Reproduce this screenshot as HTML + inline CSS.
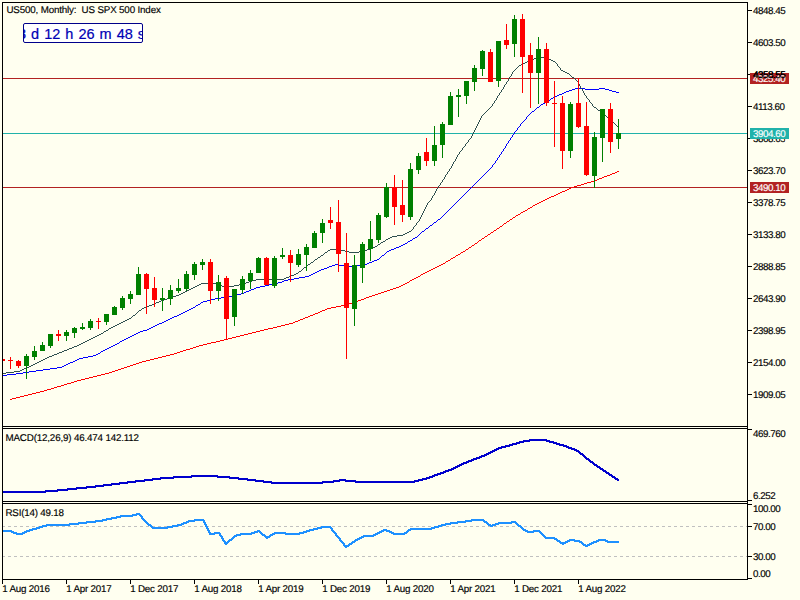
<!DOCTYPE html><html><head><meta charset="utf-8"><title>US500 Monthly</title>
<style>
html,body{margin:0;padding:0;background:#FFFFF0;}
body{width:800px;height:600px;position:relative;overflow:hidden;font-family:"Liberation Sans",sans-serif;}
svg{position:absolute;left:0;top:0;}
.t{position:absolute;white-space:pre;font-size:9.8px;line-height:10px;text-rendering:geometricPrecision;color:#000;-webkit-text-stroke:0.15px #000;}
.n{letter-spacing:-0.45px;}
.w{color:#fff;-webkit-text-stroke:0.15px #fff;}
#timer{position:absolute;left:23px;top:23px;width:118px;height:18px;border:1px solid #00008B;border-radius:2px;background:#fff;overflow:hidden;}
#timer span{position:absolute;left:-6px;top:1.5px;font-size:14.5px;line-height:16px;color:#0000B4;white-space:pre;word-spacing:1px;-webkit-text-stroke:0.2px #0000B4;}
</style></head><body>
<svg width="800" height="600" viewBox="0 0 800 600" shape-rendering="crispEdges">
<defs><clipPath id="cp"><rect x="3" y="3" width="744" height="576"/></clipPath></defs><g clip-path="url(#cp)">
<rect x="3" y="78" width="744" height="1" fill="#B22222"/>
<rect x="3" y="133" width="744" height="1" fill="#20B2AA"/>
<rect x="3" y="187" width="744" height="1" fill="#B22222"/>
<path d="M617 171h2v1h-2zM615 172h2v1h-2zM612 173h3v1h-3zM610 174h2v1h-2zM607 175h3v1h-3zM604 176h3v1h-3zM602 177h2v1h-2zM599 178h3v1h-3zM597 179h2v1h-2zM594 180h3v1h-3zM591 181h3v1h-3zM587 182h4v1h-4zM584 183h3v1h-3zM581 184h3v1h-3zM577 185h4v1h-4zM574 186h3v1h-3zM571 187h3v1h-3zM569 188h2v1h-2zM567 189h2v1h-2zM565 190h2v1h-2zM562 191h3v1h-3zM560 192h2v1h-2zM558 193h2v1h-2zM556 194h2v1h-2zM554 195h2v1h-2zM551 196h3v1h-3zM549 197h2v1h-2zM547 198h2v1h-2zM545 199h2v1h-2zM543 200h2v1h-2zM541 201h2v1h-2zM539 202h2v1h-2zM537 203h2v1h-2zM535 204h2v1h-2zM533 205h2v1h-2zM532 206h1v1h-1zM530 207h2v1h-2zM528 208h2v1h-2zM527 209h1v1h-1zM525 210h2v1h-2zM523 211h2v1h-2zM521 212h2v1h-2zM520 213h1v1h-1zM518 214h2v1h-2zM516 215h2v1h-2zM515 216h1v1h-1zM513 217h2v1h-2zM512 218h1v1h-1zM510 219h2v1h-2zM509 220h1v1h-1zM507 221h2v1h-2zM506 222h1v1h-1zM504 223h2v1h-2zM503 224h1v1h-1zM502 225h1v1h-1zM500 226h2v1h-2zM499 227h1v1h-1zM497 228h2v1h-2zM496 229h1v1h-1zM494 230h2v1h-2zM493 231h1v1h-1zM491 232h2v1h-2zM490 233h1v1h-1zM488 234h2v1h-2zM487 235h1v1h-1zM485 236h2v1h-2zM484 237h1v1h-1zM482 238h2v1h-2zM481 239h1v1h-1zM479 240h2v1h-2zM478 241h1v1h-1zM477 242h1v1h-1zM475 243h2v1h-2zM474 244h1v1h-1zM472 245h2v1h-2zM471 246h1v1h-1zM469 247h2v1h-2zM468 248h1v1h-1zM466 249h2v1h-2zM465 250h1v1h-1zM463 251h2v1h-2zM461 252h2v1h-2zM460 253h1v1h-1zM458 254h2v1h-2zM456 255h2v1h-2zM455 256h1v1h-1zM453 257h2v1h-2zM451 258h2v1h-2zM450 259h1v1h-1zM448 260h2v1h-2zM446 261h2v1h-2zM445 262h1v1h-1zM443 263h2v1h-2zM441 264h2v1h-2zM439 265h2v1h-2zM437 266h2v1h-2zM435 267h2v1h-2zM433 268h2v1h-2zM431 269h2v1h-2zM429 270h2v1h-2zM427 271h2v1h-2zM425 272h2v1h-2zM423 273h2v1h-2zM421 274h2v1h-2zM420 275h1v1h-1zM418 276h2v1h-2zM416 277h2v1h-2zM414 278h2v1h-2zM412 279h2v1h-2zM410 280h2v1h-2zM409 281h1v1h-1zM407 282h2v1h-2zM405 283h2v1h-2zM403 284h2v1h-2zM401 285h2v1h-2zM399 286h2v1h-2zM396 287h3v1h-3zM393 288h3v1h-3zM390 289h3v1h-3zM387 290h3v1h-3zM384 291h3v1h-3zM381 292h3v1h-3zM378 293h3v1h-3zM375 294h3v1h-3zM372 295h3v1h-3zM369 296h3v1h-3zM366 297h3v1h-3zM364 298h2v1h-2zM361 299h3v1h-3zM358 300h3v1h-3zM356 301h2v1h-2zM353 302h3v1h-3zM349 303h4v1h-4zM345 304h4v1h-4zM341 305h4v1h-4zM336 306h5v1h-5zM331 307h5v1h-5zM327 308h4v1h-4zM325 309h2v1h-2zM322 310h3v1h-3zM320 311h2v1h-2zM318 312h2v1h-2zM315 313h3v1h-3zM313 314h2v1h-2zM310 315h3v1h-3zM308 316h2v1h-2zM305 317h3v1h-3zM303 318h2v1h-2zM300 319h3v1h-3zM298 320h2v1h-2zM295 321h3v1h-3zM293 322h2v1h-2zM289 323h4v1h-4zM285 324h4v1h-4zM281 325h4v1h-4zM277 326h4v1h-4zM273 327h4v1h-4zM268 328h5v1h-5zM264 329h4v1h-4zM260 330h4v1h-4zM256 331h4v1h-4zM252 332h4v1h-4zM248 333h4v1h-4zM244 334h4v1h-4zM240 335h4v1h-4zM236 336h4v1h-4zM232 337h4v1h-4zM228 338h4v1h-4zM224 339h4v1h-4zM220 340h4v1h-4zM216 341h4v1h-4zM211 342h5v1h-5zM207 343h4v1h-4zM203 344h4v1h-4zM199 345h4v1h-4zM196 346h3v1h-3zM193 347h3v1h-3zM190 348h3v1h-3zM186 349h4v1h-4zM183 350h3v1h-3zM180 351h3v1h-3zM177 352h3v1h-3zM174 353h3v1h-3zM170 354h4v1h-4zM166 355h4v1h-4zM162 356h4v1h-4zM158 357h4v1h-4zM154 358h4v1h-4zM150 359h4v1h-4zM146 360h4v1h-4zM142 361h4v1h-4zM139 362h3v1h-3zM136 363h3v1h-3zM133 364h3v1h-3zM130 365h3v1h-3zM127 366h3v1h-3zM124 367h3v1h-3zM121 368h3v1h-3zM118 369h3v1h-3zM115 370h3v1h-3zM112 371h3v1h-3zM109 372h3v1h-3zM105 373h4v1h-4zM101 374h4v1h-4zM97 375h4v1h-4zM93 376h4v1h-4zM89 377h4v1h-4zM85 378h4v1h-4zM81 379h4v1h-4zM77 380h4v1h-4zM74 381h3v1h-3zM71 382h3v1h-3zM67 383h4v1h-4zM64 384h3v1h-3zM61 385h3v1h-3zM57 386h4v1h-4zM54 387h3v1h-3zM51 388h3v1h-3zM47 389h4v1h-4zM44 390h3v1h-3zM40 391h4v1h-4zM36 392h4v1h-4zM32 393h4v1h-4zM28 394h4v1h-4zM24 395h4v1h-4zM20 396h4v1h-4zM16 397h4v1h-4zM12 398h4v1h-4zM10 399h2v1h-2z" fill="#FF0000"/>
<path d="M575 88h10v1h-10zM599 88h6v1h-6zM572 89h3v1h-3zM585 89h14v1h-14zM605 89h4v1h-4zM569 90h3v1h-3zM609 90h3v1h-3zM566 91h3v1h-3zM612 91h4v1h-4zM564 92h2v1h-2zM616 92h3v1h-3zM562 93h2v1h-2zM559 94h3v1h-3zM557 95h2v1h-2zM555 96h2v1h-2zM553 97h2v1h-2zM551 98h2v1h-2zM550 99h1v1h-1zM548 100h2v1h-2zM546 101h2v1h-2zM545 102h1v1h-1zM543 103h2v1h-2zM541 104h2v1h-2zM540 105h1v1h-1zM539 106h1v1h-1zM537 107h2v1h-2zM536 108h1v1h-1zM535 109h1v1h-1zM534 110h1v1h-1zM532 111h2v1h-2zM531 112h1v1h-1zM530 113h1v1h-1zM529 114h1v1h-1zM528 115h1v1h-1zM527 116h1v1h-1zM526 117h1v1h-1zM526 118h1v1h-1zM525 119h1v1h-1zM524 120h1v1h-1zM523 121h1v1h-1zM522 122h1v1h-1zM521 123h1v1h-1zM520 124h1v1h-1zM520 125h1v1h-1zM519 126h1v1h-1zM518 127h1v1h-1zM517 128h1v1h-1zM517 129h1v1h-1zM516 130h1v1h-1zM515 131h1v1h-1zM514 132h1v1h-1zM514 133h1v1h-1zM513 134h1v1h-1zM512 135h1v1h-1zM512 136h1v1h-1zM511 137h1v1h-1zM510 138h1v1h-1zM510 139h1v1h-1zM509 140h1v1h-1zM508 141h1v1h-1zM508 142h1v1h-1zM507 143h1v1h-1zM506 144h1v1h-1zM506 145h1v1h-1zM505 146h1v1h-1zM505 147h1v1h-1zM504 148h1v1h-1zM503 149h1v1h-1zM503 150h1v1h-1zM502 151h1v1h-1zM501 152h1v1h-1zM501 153h1v1h-1zM500 154h1v1h-1zM499 155h1v1h-1zM499 156h1v1h-1zM498 157h1v1h-1zM497 158h1v1h-1zM497 159h1v1h-1zM496 160h1v1h-1zM495 161h1v1h-1zM495 162h1v1h-1zM494 163h1v1h-1zM493 164h1v1h-1zM492 165h1v1h-1zM492 166h1v1h-1zM491 167h1v1h-1zM490 168h1v1h-1zM489 169h1v1h-1zM488 170h1v1h-1zM487 171h1v1h-1zM486 172h1v1h-1zM485 173h1v1h-1zM484 174h1v1h-1zM483 175h1v1h-1zM482 176h1v1h-1zM481 177h1v1h-1zM480 178h1v1h-1zM479 179h1v1h-1zM478 180h1v1h-1zM477 181h1v1h-1zM476 182h1v1h-1zM475 183h1v1h-1zM474 184h1v1h-1zM473 185h1v1h-1zM472 186h1v1h-1zM471 187h1v1h-1zM470 188h1v1h-1zM469 189h1v1h-1zM468 190h1v1h-1zM467 191h1v1h-1zM466 192h1v1h-1zM465 193h1v1h-1zM464 194h1v1h-1zM463 195h1v1h-1zM462 196h1v1h-1zM461 197h1v1h-1zM460 198h1v1h-1zM459 199h1v1h-1zM458 200h1v1h-1zM457 201h1v1h-1zM456 202h1v1h-1zM455 203h1v1h-1zM454 204h1v1h-1zM453 205h1v1h-1zM452 206h1v1h-1zM451 207h1v1h-1zM450 208h1v1h-1zM449 209h1v1h-1zM448 210h1v1h-1zM447 211h1v1h-1zM446 212h1v1h-1zM445 213h1v1h-1zM444 214h1v1h-1zM443 215h1v1h-1zM442 216h1v1h-1zM441 217h1v1h-1zM440 218h1v1h-1zM438 219h2v1h-2zM437 220h1v1h-1zM436 221h1v1h-1zM434 222h2v1h-2zM433 223h1v1h-1zM432 224h1v1h-1zM430 225h2v1h-2zM429 226h1v1h-1zM428 227h1v1h-1zM426 228h2v1h-2zM425 229h1v1h-1zM424 230h1v1h-1zM422 231h2v1h-2zM421 232h1v1h-1zM420 233h1v1h-1zM419 234h1v1h-1zM418 235h1v1h-1zM417 236h1v1h-1zM415 237h2v1h-2zM413 238h2v1h-2zM412 239h1v1h-1zM410 240h2v1h-2zM408 241h2v1h-2zM407 242h1v1h-1zM405 243h2v1h-2zM403 244h2v1h-2zM401 245h2v1h-2zM399 246h2v1h-2zM396 247h3v1h-3zM394 248h2v1h-2zM391 249h3v1h-3zM389 250h2v1h-2zM387 251h2v1h-2zM386 252h1v1h-1zM385 253h1v1h-1zM384 254h1v1h-1zM382 255h2v1h-2zM381 256h1v1h-1zM380 257h1v1h-1zM379 258h1v1h-1zM377 259h2v1h-2zM374 260h3v1h-3zM372 261h2v1h-2zM369 262h3v1h-3zM367 263h2v1h-2zM335 264h4v1h-4zM363 264h4v1h-4zM332 265h3v1h-3zM339 265h8v1h-8zM356 265h7v1h-7zM329 266h3v1h-3zM347 266h9v1h-9zM327 267h2v1h-2zM324 268h3v1h-3zM321 269h3v1h-3zM319 270h2v1h-2zM317 271h2v1h-2zM315 272h2v1h-2zM313 273h2v1h-2zM311 274h2v1h-2zM309 275h2v1h-2zM305 276h4v1h-4zM299 277h6v1h-6zM294 278h5v1h-5zM288 279h6v1h-6zM284 280h4v1h-4zM282 281h2v1h-2zM278 282h4v1h-4zM273 283h5v1h-5zM269 284h4v1h-4zM265 285h4v1h-4zM260 286h5v1h-5zM256 287h4v1h-4zM254 288h2v1h-2zM251 289h3v1h-3zM249 290h2v1h-2zM246 291h3v1h-3zM244 292h2v1h-2zM241 293h3v1h-3zM237 294h4v1h-4zM233 295h4v1h-4zM228 296h5v1h-5zM221 297h7v1h-7zM215 298h6v1h-6zM211 299h4v1h-4zM207 300h4v1h-4zM203 301h4v1h-4zM201 302h2v1h-2zM200 303h1v1h-1zM198 304h2v1h-2zM196 305h2v1h-2zM195 306h1v1h-1zM193 307h2v1h-2zM191 308h2v1h-2zM189 309h2v1h-2zM187 310h2v1h-2zM185 311h2v1h-2zM183 312h2v1h-2zM181 313h2v1h-2zM179 314h2v1h-2zM177 315h2v1h-2zM174 316h3v1h-3zM172 317h2v1h-2zM170 318h2v1h-2zM168 319h2v1h-2zM166 320h2v1h-2zM164 321h2v1h-2zM162 322h2v1h-2zM159 323h3v1h-3zM157 324h2v1h-2zM155 325h2v1h-2zM153 326h2v1h-2zM151 327h2v1h-2zM149 328h2v1h-2zM147 329h2v1h-2zM143 330h4v1h-4zM140 331h3v1h-3zM138 332h2v1h-2zM136 333h2v1h-2zM134 334h2v1h-2zM132 335h2v1h-2zM130 336h2v1h-2zM128 337h2v1h-2zM126 338h2v1h-2zM124 339h2v1h-2zM122 340h2v1h-2zM120 341h2v1h-2zM119 342h1v1h-1zM117 343h2v1h-2zM115 344h2v1h-2zM113 345h2v1h-2zM111 346h2v1h-2zM109 347h2v1h-2zM107 348h2v1h-2zM105 349h2v1h-2zM103 350h2v1h-2zM101 351h2v1h-2zM100 352h1v1h-1zM98 353h2v1h-2zM96 354h2v1h-2zM93 355h3v1h-3zM88 356h5v1h-5zM83 357h5v1h-5zM79 358h4v1h-4zM77 359h2v1h-2zM75 360h2v1h-2zM73 361h2v1h-2zM70 362h3v1h-3zM68 363h2v1h-2zM66 364h2v1h-2zM64 365h2v1h-2zM62 366h2v1h-2zM57 367h5v1h-5zM50 368h7v1h-7zM43 369h7v1h-7zM36 370h7v1h-7zM29 371h7v1h-7zM23 372h6v1h-6zM16 373h7v1h-7zM7 374h9v1h-9zM2 375h5v1h-5z" fill="#0000FF"/>
<path d="M539 57h6v1h-6zM534 58h5v1h-5zM545 58h4v1h-4zM532 59h2v1h-2zM549 59h2v1h-2zM529 60h3v1h-3zM551 60h2v1h-2zM527 61h2v1h-2zM553 61h2v1h-2zM525 62h2v1h-2zM555 62h1v1h-1zM523 63h2v1h-2zM556 63h1v1h-1zM521 64h2v1h-2zM557 64h1v1h-1zM519 65h2v1h-2zM557 65h1v1h-1zM518 66h1v1h-1zM558 66h1v1h-1zM517 67h1v1h-1zM559 67h1v1h-1zM516 68h1v1h-1zM560 68h1v1h-1zM515 69h1v1h-1zM560 69h1v1h-1zM514 70h1v1h-1zM561 70h2v1h-2zM513 71h1v1h-1zM563 71h2v1h-2zM512 72h1v1h-1zM565 72h2v1h-2zM512 73h1v1h-1zM567 73h2v1h-2zM511 74h1v1h-1zM569 74h1v1h-1zM511 75h1v1h-1zM570 75h1v1h-1zM510 76h1v1h-1zM571 76h1v1h-1zM509 77h1v1h-1zM572 77h2v1h-2zM509 78h1v1h-1zM574 78h1v1h-1zM508 79h1v1h-1zM575 79h1v1h-1zM508 80h1v1h-1zM576 80h1v1h-1zM507 81h1v1h-1zM577 81h1v1h-1zM506 82h1v1h-1zM578 82h1v1h-1zM506 83h1v1h-1zM578 83h1v1h-1zM505 84h1v1h-1zM579 84h1v1h-1zM504 85h1v1h-1zM579 85h1v1h-1zM504 86h1v1h-1zM580 86h1v1h-1zM503 87h1v1h-1zM580 87h1v1h-1zM503 88h1v1h-1zM581 88h1v1h-1zM502 89h1v1h-1zM582 89h1v1h-1zM501 90h1v1h-1zM582 90h1v1h-1zM501 91h1v1h-1zM583 91h1v1h-1zM500 92h1v1h-1zM583 92h1v1h-1zM499 93h1v1h-1zM584 93h1v1h-1zM499 94h1v1h-1zM584 94h1v1h-1zM498 95h1v1h-1zM585 95h1v1h-1zM497 96h1v1h-1zM586 96h1v1h-1zM497 97h1v1h-1zM586 97h1v1h-1zM496 98h1v1h-1zM587 98h1v1h-1zM496 99h1v1h-1zM588 99h1v1h-1zM495 100h1v1h-1zM589 100h1v1h-1zM494 101h1v1h-1zM589 101h1v1h-1zM494 102h1v1h-1zM590 102h1v1h-1zM493 103h1v1h-1zM591 103h1v1h-1zM492 104h1v1h-1zM592 104h1v1h-1zM492 105h1v1h-1zM592 105h1v1h-1zM491 106h1v1h-1zM593 106h1v1h-1zM490 107h1v1h-1zM594 107h2v1h-2zM489 108h1v1h-1zM596 108h1v1h-1zM488 109h1v1h-1zM597 109h1v1h-1zM487 110h1v1h-1zM598 110h2v1h-2zM486 111h1v1h-1zM600 111h1v1h-1zM485 112h1v1h-1zM601 112h1v1h-1zM484 113h1v1h-1zM602 113h1v1h-1zM483 114h1v1h-1zM603 114h2v1h-2zM482 115h1v1h-1zM605 115h1v1h-1zM481 116h1v1h-1zM606 116h1v1h-1zM481 117h1v1h-1zM607 117h1v1h-1zM480 118h1v1h-1zM608 118h1v1h-1zM480 119h1v1h-1zM609 119h1v1h-1zM479 120h1v1h-1zM610 120h1v1h-1zM479 121h1v1h-1zM611 121h1v1h-1zM478 122h1v1h-1zM612 122h2v1h-2zM478 123h1v1h-1zM614 123h1v1h-1zM477 124h1v1h-1zM615 124h1v1h-1zM477 125h1v1h-1zM616 125h1v1h-1zM476 126h1v1h-1zM617 126h1v1h-1zM476 127h1v1h-1zM618 127h1v1h-1zM475 128h1v1h-1zM475 129h1v1h-1zM474 130h1v1h-1zM474 131h1v1h-1zM473 132h1v1h-1zM473 133h1v1h-1zM472 134h1v1h-1zM472 135h1v1h-1zM471 136h1v1h-1zM471 137h1v1h-1zM470 138h1v1h-1zM469 139h1v1h-1zM468 140h1v1h-1zM468 141h1v1h-1zM467 142h1v1h-1zM466 143h1v1h-1zM465 144h1v1h-1zM465 145h1v1h-1zM464 146h1v1h-1zM463 147h1v1h-1zM462 148h1v1h-1zM462 149h1v1h-1zM461 150h1v1h-1zM460 151h1v1h-1zM459 152h1v1h-1zM459 153h1v1h-1zM458 154h1v1h-1zM457 155h1v1h-1zM457 156h1v1h-1zM456 157h1v1h-1zM456 158h1v1h-1zM455 159h1v1h-1zM455 160h1v1h-1zM454 161h1v1h-1zM453 162h1v1h-1zM453 163h1v1h-1zM452 164h1v1h-1zM452 165h1v1h-1zM451 166h1v1h-1zM451 167h1v1h-1zM450 168h1v1h-1zM449 169h1v1h-1zM449 170h1v1h-1zM448 171h1v1h-1zM447 172h1v1h-1zM447 173h1v1h-1zM446 174h1v1h-1zM445 175h1v1h-1zM445 176h1v1h-1zM444 177h1v1h-1zM444 178h1v1h-1zM443 179h1v1h-1zM442 180h1v1h-1zM442 181h1v1h-1zM441 182h1v1h-1zM440 183h1v1h-1zM440 184h1v1h-1zM439 185h1v1h-1zM438 186h1v1h-1zM438 187h1v1h-1zM437 188h1v1h-1zM436 189h1v1h-1zM436 190h1v1h-1zM435 191h1v1h-1zM435 192h1v1h-1zM434 193h1v1h-1zM434 194h1v1h-1zM433 195h1v1h-1zM432 196h1v1h-1zM432 197h1v1h-1zM431 198h1v1h-1zM431 199h1v1h-1zM430 200h1v1h-1zM429 201h1v1h-1zM428 202h1v1h-1zM427 203h1v1h-1zM427 204h1v1h-1zM426 205h1v1h-1zM426 206h1v1h-1zM425 207h1v1h-1zM425 208h1v1h-1zM424 209h1v1h-1zM424 210h1v1h-1zM423 211h1v1h-1zM423 212h1v1h-1zM422 213h1v1h-1zM422 214h1v1h-1zM421 215h1v1h-1zM421 216h1v1h-1zM420 217h1v1h-1zM420 218h1v1h-1zM419 219h1v1h-1zM419 220h1v1h-1zM418 221h1v1h-1zM417 222h1v1h-1zM416 223h1v1h-1zM416 224h1v1h-1zM415 225h1v1h-1zM414 226h1v1h-1zM413 227h1v1h-1zM413 228h1v1h-1zM412 229h1v1h-1zM411 230h1v1h-1zM409 231h2v1h-2zM407 232h2v1h-2zM405 233h2v1h-2zM403 234h2v1h-2zM397 235h6v1h-6zM392 236h5v1h-5zM390 237h2v1h-2zM388 238h2v1h-2zM386 239h2v1h-2zM385 240h1v1h-1zM383 241h2v1h-2zM381 242h2v1h-2zM380 243h1v1h-1zM378 244h2v1h-2zM377 245h1v1h-1zM375 246h2v1h-2zM373 247h2v1h-2zM371 248h2v1h-2zM330 249h9v1h-9zM367 249h4v1h-4zM328 250h2v1h-2zM339 250h6v1h-6zM363 250h4v1h-4zM327 251h1v1h-1zM345 251h4v1h-4zM359 251h4v1h-4zM325 252h2v1h-2zM349 252h10v1h-10zM324 253h1v1h-1zM323 254h1v1h-1zM321 255h2v1h-2zM320 256h1v1h-1zM318 257h2v1h-2zM317 258h1v1h-1zM315 259h2v1h-2zM314 260h1v1h-1zM313 261h1v1h-1zM311 262h2v1h-2zM310 263h1v1h-1zM308 264h2v1h-2zM307 265h1v1h-1zM306 266h1v1h-1zM304 267h2v1h-2zM303 268h1v1h-1zM302 269h1v1h-1zM301 270h1v1h-1zM299 271h2v1h-2zM298 272h1v1h-1zM296 273h2v1h-2zM294 274h2v1h-2zM291 275h3v1h-3zM289 276h2v1h-2zM286 277h3v1h-3zM284 278h2v1h-2zM256 279h28v1h-28zM252 280h4v1h-4zM249 281h3v1h-3zM246 282h3v1h-3zM201 283h16v1h-16zM242 283h4v1h-4zM199 284h2v1h-2zM217 284h2v1h-2zM239 284h3v1h-3zM197 285h2v1h-2zM219 285h3v1h-3zM234 285h5v1h-5zM195 286h2v1h-2zM222 286h12v1h-12zM193 287h2v1h-2zM191 288h2v1h-2zM189 289h2v1h-2zM187 290h2v1h-2zM185 291h2v1h-2zM183 292h2v1h-2zM181 293h2v1h-2zM179 294h2v1h-2zM176 295h3v1h-3zM173 296h3v1h-3zM170 297h3v1h-3zM167 298h3v1h-3zM164 299h3v1h-3zM161 300h3v1h-3zM159 301h2v1h-2zM156 302h3v1h-3zM154 303h2v1h-2zM152 304h2v1h-2zM149 305h3v1h-3zM146 306h3v1h-3zM144 307h2v1h-2zM142 308h2v1h-2zM141 309h1v1h-1zM139 310h2v1h-2zM138 311h1v1h-1zM137 312h1v1h-1zM136 313h1v1h-1zM135 314h1v1h-1zM133 315h2v1h-2zM132 316h1v1h-1zM131 317h1v1h-1zM129 318h2v1h-2zM127 319h2v1h-2zM125 320h2v1h-2zM123 321h2v1h-2zM121 322h2v1h-2zM119 323h2v1h-2zM117 324h2v1h-2zM115 325h2v1h-2zM113 326h2v1h-2zM111 327h2v1h-2zM109 328h2v1h-2zM108 329h1v1h-1zM106 330h2v1h-2zM104 331h2v1h-2zM103 332h1v1h-1zM101 333h2v1h-2zM99 334h2v1h-2zM97 335h2v1h-2zM95 336h2v1h-2zM93 337h2v1h-2zM91 338h2v1h-2zM89 339h2v1h-2zM87 340h2v1h-2zM85 341h2v1h-2zM83 342h2v1h-2zM81 343h2v1h-2zM79 344h2v1h-2zM77 345h2v1h-2zM74 346h3v1h-3zM72 347h2v1h-2zM69 348h3v1h-3zM67 349h2v1h-2zM64 350h3v1h-3zM62 351h2v1h-2zM59 352h3v1h-3zM57 353h2v1h-2zM54 354h3v1h-3zM52 355h2v1h-2zM49 356h3v1h-3zM47 357h2v1h-2zM45 358h2v1h-2zM43 359h2v1h-2zM41 360h2v1h-2zM39 361h2v1h-2zM37 362h2v1h-2zM35 363h2v1h-2zM33 364h2v1h-2zM31 365h2v1h-2zM29 366h2v1h-2zM26 367h3v1h-3zM24 368h2v1h-2zM22 369h2v1h-2zM20 370h2v1h-2zM14 371h6v1h-6zM6 372h8v1h-8zM2 373h4v1h-4z" fill="#2F4F4F"/>
<rect x="2" y="357" width="1" height="9" fill="#FF0000"/>
<rect x="0" y="359" width="5" height="2" fill="#FF0000"/>
<rect x="10" y="357" width="1" height="12" fill="#FF0000"/>
<rect x="8" y="360" width="5" height="1" fill="#FF0000"/>
<rect x="18" y="360" width="1" height="8" fill="#FF0000"/>
<rect x="16" y="361" width="5" height="5" fill="#FF0000"/>
<rect x="26" y="354" width="1" height="25" fill="#008000"/>
<rect x="24" y="356" width="5" height="10" fill="#008000"/>
<rect x="34" y="346" width="1" height="14" fill="#008000"/>
<rect x="32" y="351" width="5" height="6" fill="#008000"/>
<rect x="42" y="342" width="1" height="9" fill="#008000"/>
<rect x="40" y="345" width="5" height="6" fill="#008000"/>
<rect x="50" y="334" width="1" height="14" fill="#008000"/>
<rect x="48" y="334" width="5" height="12" fill="#008000"/>
<rect x="58" y="330" width="1" height="11" fill="#FF0000"/>
<rect x="56" y="334" width="5" height="2" fill="#FF0000"/>
<rect x="66" y="330" width="1" height="11" fill="#008000"/>
<rect x="64" y="332" width="5" height="4" fill="#008000"/>
<rect x="74" y="327" width="1" height="11" fill="#008000"/>
<rect x="72" y="328" width="5" height="5" fill="#008000"/>
<rect x="82" y="323" width="1" height="7" fill="#008000"/>
<rect x="80" y="327" width="5" height="2" fill="#008000"/>
<rect x="90" y="319" width="1" height="11" fill="#008000"/>
<rect x="88" y="321" width="5" height="7" fill="#008000"/>
<rect x="98" y="318" width="1" height="11" fill="#FF0000"/>
<rect x="96" y="321" width="5" height="1" fill="#FF0000"/>
<rect x="106" y="314" width="1" height="11" fill="#008000"/>
<rect x="104" y="314" width="5" height="8" fill="#008000"/>
<rect x="114" y="306" width="1" height="9" fill="#008000"/>
<rect x="112" y="307" width="5" height="8" fill="#008000"/>
<rect x="122" y="296" width="1" height="14" fill="#008000"/>
<rect x="120" y="298" width="5" height="10" fill="#008000"/>
<rect x="130" y="291" width="1" height="13" fill="#008000"/>
<rect x="128" y="294" width="5" height="5" fill="#008000"/>
<rect x="138" y="267" width="1" height="28" fill="#008000"/>
<rect x="136" y="274" width="5" height="21" fill="#008000"/>
<rect x="146" y="273" width="1" height="41" fill="#FF0000"/>
<rect x="144" y="274" width="5" height="15" fill="#FF0000"/>
<rect x="154" y="277" width="1" height="30" fill="#FF0000"/>
<rect x="152" y="288" width="5" height="12" fill="#FF0000"/>
<rect x="162" y="288" width="1" height="23" fill="#008000"/>
<rect x="160" y="298" width="5" height="2" fill="#008000"/>
<rect x="170" y="285" width="1" height="20" fill="#008000"/>
<rect x="168" y="290" width="5" height="9" fill="#008000"/>
<rect x="178" y="279" width="1" height="14" fill="#008000"/>
<rect x="176" y="288" width="5" height="3" fill="#008000"/>
<rect x="186" y="271" width="1" height="20" fill="#008000"/>
<rect x="184" y="274" width="5" height="15" fill="#008000"/>
<rect x="194" y="262" width="1" height="18" fill="#008000"/>
<rect x="192" y="264" width="5" height="11" fill="#008000"/>
<rect x="202" y="259" width="1" height="11" fill="#008000"/>
<rect x="200" y="262" width="5" height="3" fill="#008000"/>
<rect x="210" y="259" width="1" height="45" fill="#FF0000"/>
<rect x="208" y="262" width="5" height="29" fill="#FF0000"/>
<rect x="218" y="275" width="1" height="26" fill="#008000"/>
<rect x="216" y="282" width="5" height="9" fill="#008000"/>
<rect x="226" y="276" width="1" height="64" fill="#FF0000"/>
<rect x="224" y="278" width="5" height="41" fill="#FF0000"/>
<rect x="234" y="289" width="1" height="37" fill="#008000"/>
<rect x="232" y="289" width="5" height="28" fill="#008000"/>
<rect x="242" y="276" width="1" height="18" fill="#008000"/>
<rect x="240" y="279" width="5" height="11" fill="#008000"/>
<rect x="250" y="270" width="1" height="19" fill="#008000"/>
<rect x="248" y="273" width="5" height="8" fill="#008000"/>
<rect x="258" y="257" width="1" height="16" fill="#008000"/>
<rect x="256" y="258" width="5" height="15" fill="#008000"/>
<rect x="266" y="257" width="1" height="28" fill="#FF0000"/>
<rect x="264" y="258" width="5" height="27" fill="#FF0000"/>
<rect x="274" y="256" width="1" height="32" fill="#008000"/>
<rect x="272" y="258" width="5" height="28" fill="#008000"/>
<rect x="282" y="248" width="1" height="11" fill="#008000"/>
<rect x="280" y="255" width="5" height="2" fill="#008000"/>
<rect x="290" y="250" width="1" height="32" fill="#FF0000"/>
<rect x="288" y="255" width="5" height="8" fill="#FF0000"/>
<rect x="298" y="249" width="1" height="18" fill="#008000"/>
<rect x="296" y="254" width="5" height="11" fill="#008000"/>
<rect x="306" y="244" width="1" height="27" fill="#008000"/>
<rect x="304" y="247" width="5" height="8" fill="#008000"/>
<rect x="314" y="231" width="1" height="17" fill="#008000"/>
<rect x="312" y="233" width="5" height="15" fill="#008000"/>
<rect x="322" y="219" width="1" height="24" fill="#008000"/>
<rect x="320" y="223" width="5" height="10" fill="#008000"/>
<rect x="330" y="207" width="1" height="22" fill="#FF0000"/>
<rect x="328" y="220" width="5" height="3" fill="#FF0000"/>
<rect x="338" y="200" width="1" height="72" fill="#FF0000"/>
<rect x="336" y="222" width="5" height="32" fill="#FF0000"/>
<rect x="346" y="233" width="1" height="126" fill="#FF0000"/>
<rect x="344" y="263" width="5" height="45" fill="#FF0000"/>
<rect x="354" y="255" width="1" height="71" fill="#008000"/>
<rect x="352" y="265" width="5" height="44" fill="#008000"/>
<rect x="362" y="242" width="1" height="41" fill="#008000"/>
<rect x="360" y="244" width="5" height="24" fill="#008000"/>
<rect x="370" y="221" width="1" height="40" fill="#008000"/>
<rect x="368" y="239" width="5" height="10" fill="#008000"/>
<rect x="378" y="213" width="1" height="30" fill="#008000"/>
<rect x="376" y="215" width="5" height="25" fill="#008000"/>
<rect x="386" y="183" width="1" height="35" fill="#008000"/>
<rect x="384" y="187" width="5" height="30" fill="#008000"/>
<rect x="394" y="175" width="1" height="50" fill="#FF0000"/>
<rect x="392" y="187" width="5" height="20" fill="#FF0000"/>
<rect x="402" y="180" width="1" height="42" fill="#FF0000"/>
<rect x="400" y="205" width="5" height="10" fill="#FF0000"/>
<rect x="410" y="163" width="1" height="57" fill="#008000"/>
<rect x="408" y="169" width="5" height="48" fill="#008000"/>
<rect x="418" y="153" width="1" height="21" fill="#008000"/>
<rect x="416" y="156" width="5" height="14" fill="#008000"/>
<rect x="426" y="138" width="1" height="28" fill="#FF0000"/>
<rect x="424" y="152" width="5" height="9" fill="#FF0000"/>
<rect x="434" y="126" width="1" height="40" fill="#008000"/>
<rect x="432" y="145" width="5" height="16" fill="#008000"/>
<rect x="442" y="122" width="1" height="36" fill="#008000"/>
<rect x="440" y="124" width="5" height="21" fill="#008000"/>
<rect x="450" y="92" width="1" height="33" fill="#008000"/>
<rect x="448" y="96" width="5" height="29" fill="#008000"/>
<rect x="458" y="89" width="1" height="28" fill="#008000"/>
<rect x="456" y="95" width="5" height="2" fill="#008000"/>
<rect x="466" y="81" width="1" height="23" fill="#008000"/>
<rect x="464" y="81" width="5" height="15" fill="#008000"/>
<rect x="474" y="65" width="1" height="26" fill="#008000"/>
<rect x="472" y="68" width="5" height="14" fill="#008000"/>
<rect x="482" y="50" width="1" height="26" fill="#008000"/>
<rect x="480" y="51" width="5" height="18" fill="#008000"/>
<rect x="490" y="49" width="1" height="33" fill="#FF0000"/>
<rect x="488" y="52" width="5" height="30" fill="#FF0000"/>
<rect x="498" y="41" width="1" height="46" fill="#008000"/>
<rect x="496" y="41" width="5" height="40" fill="#008000"/>
<rect x="506" y="24" width="1" height="25" fill="#FF0000"/>
<rect x="504" y="40" width="5" height="5" fill="#FF0000"/>
<rect x="514" y="15" width="1" height="42" fill="#008000"/>
<rect x="512" y="19" width="5" height="25" fill="#008000"/>
<rect x="522" y="14" width="1" height="79" fill="#FF0000"/>
<rect x="520" y="19" width="5" height="38" fill="#FF0000"/>
<rect x="530" y="43" width="1" height="65" fill="#FF0000"/>
<rect x="528" y="55" width="5" height="18" fill="#FF0000"/>
<rect x="538" y="37" width="1" height="67" fill="#008000"/>
<rect x="536" y="49" width="5" height="24" fill="#008000"/>
<rect x="546" y="43" width="1" height="63" fill="#FF0000"/>
<rect x="544" y="49" width="5" height="54" fill="#FF0000"/>
<rect x="554" y="81" width="1" height="66" fill="#FF0000"/>
<rect x="552" y="103" width="5" height="1" fill="#FF0000"/>
<rect x="562" y="96" width="1" height="73" fill="#FF0000"/>
<rect x="560" y="103" width="5" height="48" fill="#FF0000"/>
<rect x="570" y="102" width="1" height="56" fill="#008000"/>
<rect x="568" y="104" width="5" height="47" fill="#008000"/>
<rect x="578" y="78" width="1" height="50" fill="#FF0000"/>
<rect x="576" y="103" width="5" height="24" fill="#FF0000"/>
<rect x="586" y="102" width="1" height="74" fill="#FF0000"/>
<rect x="584" y="126" width="5" height="49" fill="#FF0000"/>
<rect x="594" y="132" width="1" height="56" fill="#008000"/>
<rect x="592" y="137" width="5" height="39" fill="#008000"/>
<rect x="602" y="109" width="1" height="53" fill="#008000"/>
<rect x="600" y="109" width="5" height="29" fill="#008000"/>
<rect x="610" y="103" width="1" height="50" fill="#FF0000"/>
<rect x="608" y="109" width="5" height="33" fill="#FF0000"/>
<rect x="618" y="119" width="1" height="30" fill="#008000"/>
<rect x="616" y="133" width="5" height="6" fill="#008000"/>
<path d="M2 526h3v1h-3zM2 556h3v1h-3zM8 526h3v1h-3zM8 556h3v1h-3zM14 526h3v1h-3zM14 556h3v1h-3zM20 526h3v1h-3zM20 556h3v1h-3zM26 526h3v1h-3zM26 556h3v1h-3zM32 526h3v1h-3zM32 556h3v1h-3zM38 526h3v1h-3zM38 556h3v1h-3zM44 526h3v1h-3zM44 556h3v1h-3zM50 526h3v1h-3zM50 556h3v1h-3zM56 526h3v1h-3zM56 556h3v1h-3zM62 526h3v1h-3zM62 556h3v1h-3zM68 526h3v1h-3zM68 556h3v1h-3zM74 526h3v1h-3zM74 556h3v1h-3zM80 526h3v1h-3zM80 556h3v1h-3zM86 526h3v1h-3zM86 556h3v1h-3zM92 526h3v1h-3zM92 556h3v1h-3zM98 526h3v1h-3zM98 556h3v1h-3zM104 526h3v1h-3zM104 556h3v1h-3zM110 526h3v1h-3zM110 556h3v1h-3zM116 526h3v1h-3zM116 556h3v1h-3zM122 526h3v1h-3zM122 556h3v1h-3zM128 526h3v1h-3zM128 556h3v1h-3zM134 526h3v1h-3zM134 556h3v1h-3zM140 526h3v1h-3zM140 556h3v1h-3zM146 526h3v1h-3zM146 556h3v1h-3zM152 526h3v1h-3zM152 556h3v1h-3zM158 526h3v1h-3zM158 556h3v1h-3zM164 526h3v1h-3zM164 556h3v1h-3zM170 526h3v1h-3zM170 556h3v1h-3zM176 526h3v1h-3zM176 556h3v1h-3zM182 526h3v1h-3zM182 556h3v1h-3zM188 526h3v1h-3zM188 556h3v1h-3zM194 526h3v1h-3zM194 556h3v1h-3zM200 526h3v1h-3zM200 556h3v1h-3zM206 526h3v1h-3zM206 556h3v1h-3zM212 526h3v1h-3zM212 556h3v1h-3zM218 526h3v1h-3zM218 556h3v1h-3zM224 526h3v1h-3zM224 556h3v1h-3zM230 526h3v1h-3zM230 556h3v1h-3zM236 526h3v1h-3zM236 556h3v1h-3zM242 526h3v1h-3zM242 556h3v1h-3zM248 526h3v1h-3zM248 556h3v1h-3zM254 526h3v1h-3zM254 556h3v1h-3zM260 526h3v1h-3zM260 556h3v1h-3zM266 526h3v1h-3zM266 556h3v1h-3zM272 526h3v1h-3zM272 556h3v1h-3zM278 526h3v1h-3zM278 556h3v1h-3zM284 526h3v1h-3zM284 556h3v1h-3zM290 526h3v1h-3zM290 556h3v1h-3zM296 526h3v1h-3zM296 556h3v1h-3zM302 526h3v1h-3zM302 556h3v1h-3zM308 526h3v1h-3zM308 556h3v1h-3zM314 526h3v1h-3zM314 556h3v1h-3zM320 526h3v1h-3zM320 556h3v1h-3zM326 526h3v1h-3zM326 556h3v1h-3zM332 526h3v1h-3zM332 556h3v1h-3zM338 526h3v1h-3zM338 556h3v1h-3zM344 526h3v1h-3zM344 556h3v1h-3zM350 526h3v1h-3zM350 556h3v1h-3zM356 526h3v1h-3zM356 556h3v1h-3zM362 526h3v1h-3zM362 556h3v1h-3zM368 526h3v1h-3zM368 556h3v1h-3zM374 526h3v1h-3zM374 556h3v1h-3zM380 526h3v1h-3zM380 556h3v1h-3zM386 526h3v1h-3zM386 556h3v1h-3zM392 526h3v1h-3zM392 556h3v1h-3zM398 526h3v1h-3zM398 556h3v1h-3zM404 526h3v1h-3zM404 556h3v1h-3zM410 526h3v1h-3zM410 556h3v1h-3zM416 526h3v1h-3zM416 556h3v1h-3zM422 526h3v1h-3zM422 556h3v1h-3zM428 526h3v1h-3zM428 556h3v1h-3zM434 526h3v1h-3zM434 556h3v1h-3zM440 526h3v1h-3zM440 556h3v1h-3zM446 526h3v1h-3zM446 556h3v1h-3zM452 526h3v1h-3zM452 556h3v1h-3zM458 526h3v1h-3zM458 556h3v1h-3zM464 526h3v1h-3zM464 556h3v1h-3zM470 526h3v1h-3zM470 556h3v1h-3zM476 526h3v1h-3zM476 556h3v1h-3zM482 526h3v1h-3zM482 556h3v1h-3zM488 526h3v1h-3zM488 556h3v1h-3zM494 526h3v1h-3zM494 556h3v1h-3zM500 526h3v1h-3zM500 556h3v1h-3zM506 526h3v1h-3zM506 556h3v1h-3zM512 526h3v1h-3zM512 556h3v1h-3zM518 526h3v1h-3zM518 556h3v1h-3zM524 526h3v1h-3zM524 556h3v1h-3zM530 526h3v1h-3zM530 556h3v1h-3zM536 526h3v1h-3zM536 556h3v1h-3zM542 526h3v1h-3zM542 556h3v1h-3zM548 526h3v1h-3zM548 556h3v1h-3zM554 526h3v1h-3zM554 556h3v1h-3zM560 526h3v1h-3zM560 556h3v1h-3zM566 526h3v1h-3zM566 556h3v1h-3zM572 526h3v1h-3zM572 556h3v1h-3zM578 526h3v1h-3zM578 556h3v1h-3zM584 526h3v1h-3zM584 556h3v1h-3zM590 526h3v1h-3zM590 556h3v1h-3zM596 526h3v1h-3zM596 556h3v1h-3zM602 526h3v1h-3zM602 556h3v1h-3zM608 526h3v1h-3zM608 556h3v1h-3zM614 526h3v1h-3zM614 556h3v1h-3zM620 526h3v1h-3zM620 556h3v1h-3zM626 526h3v1h-3zM626 556h3v1h-3zM632 526h3v1h-3zM632 556h3v1h-3zM638 526h3v1h-3zM638 556h3v1h-3zM644 526h3v1h-3zM644 556h3v1h-3zM650 526h3v1h-3zM650 556h3v1h-3zM656 526h3v1h-3zM656 556h3v1h-3zM662 526h3v1h-3zM662 556h3v1h-3zM668 526h3v1h-3zM668 556h3v1h-3zM674 526h3v1h-3zM674 556h3v1h-3zM680 526h3v1h-3zM680 556h3v1h-3zM686 526h3v1h-3zM686 556h3v1h-3zM692 526h3v1h-3zM692 556h3v1h-3zM698 526h3v1h-3zM698 556h3v1h-3zM704 526h3v1h-3zM704 556h3v1h-3zM710 526h3v1h-3zM710 556h3v1h-3zM716 526h3v1h-3zM716 556h3v1h-3zM722 526h3v1h-3zM722 556h3v1h-3zM728 526h3v1h-3zM728 556h3v1h-3zM734 526h3v1h-3zM734 556h3v1h-3zM740 526h3v1h-3zM740 556h3v1h-3zM746 526h3v1h-3zM746 556h3v1h-3z" fill="#C0C0C0"/>
<path d="M529 439h18v1h-18zM523 440h27v1h-27zM519 441h11v1h-11zM546 441h8v1h-8zM516 442h8v1h-8zM549 442h8v1h-8zM512 443h8v1h-8zM553 443h7v1h-7zM509 444h8v1h-8zM556 444h8v1h-8zM505 445h8v1h-8zM559 445h8v1h-8zM501 446h9v1h-9zM563 446h6v1h-6zM498 447h8v1h-8zM566 447h6v1h-6zM496 448h6v1h-6zM568 448h7v1h-7zM494 449h5v1h-5zM571 449h6v1h-6zM492 450h5v1h-5zM574 450h5v1h-5zM490 451h5v1h-5zM576 451h4v1h-4zM488 452h5v1h-5zM578 452h3v1h-3zM486 453h5v1h-5zM579 453h4v1h-4zM484 454h5v1h-5zM580 454h4v1h-4zM481 455h6v1h-6zM582 455h3v1h-3zM479 456h6v1h-6zM583 456h3v1h-3zM476 457h6v1h-6zM584 457h3v1h-3zM473 458h7v1h-7zM585 458h4v1h-4zM471 459h6v1h-6zM586 459h4v1h-4zM468 460h6v1h-6zM588 460h3v1h-3zM466 461h6v1h-6zM589 461h4v1h-4zM463 462h6v1h-6zM590 462h4v1h-4zM461 463h6v1h-6zM592 463h3v1h-3zM459 464h5v1h-5zM593 464h4v1h-4zM457 465h5v1h-5zM594 465h4v1h-4zM455 466h5v1h-5zM596 466h4v1h-4zM453 467h5v1h-5zM597 467h4v1h-4zM451 468h5v1h-5zM599 468h4v1h-4zM448 469h6v1h-6zM600 469h4v1h-4zM445 470h7v1h-7zM602 470h4v1h-4zM443 471h6v1h-6zM603 471h4v1h-4zM440 472h6v1h-6zM605 472h4v1h-4zM437 473h7v1h-7zM606 473h4v1h-4zM434 474h7v1h-7zM608 474h4v1h-4zM191 475h27v1h-27zM432 475h6v1h-6zM609 475h4v1h-4zM173 476h57v1h-57zM429 476h6v1h-6zM611 476h4v1h-4zM160 477h32v1h-32zM217 477h22v1h-22zM426 477h7v1h-7zM612 477h4v1h-4zM152 478h22v1h-22zM229 478h19v1h-19zM422 478h8v1h-8zM614 478h4v1h-4zM144 479h17v1h-17zM238 479h18v1h-18zM339 479h7v1h-7zM418 479h9v1h-9zM615 479h4v1h-4zM135 480h18v1h-18zM247 480h17v1h-17zM333 480h23v1h-23zM414 480h9v1h-9zM617 480h2v1h-2zM127 481h18v1h-18zM255 481h17v1h-17zM322 481h18v1h-18zM345 481h74v1h-74zM119 482h17v1h-17zM263 482h71v1h-71zM355 482h60v1h-60zM111 483h17v1h-17zM271 483h52v1h-52zM103 484h17v1h-17zM95 485h17v1h-17zM86 486h18v1h-18zM76 487h20v1h-20zM67 488h20v1h-20zM57 489h20v1h-20zM45 490h23v1h-23zM1 491h57v1h-57zM1 492h45v1h-45z" fill="#0000CD"/>
<path d="M136 513h4v1h-4zM132 514h9v1h-9zM120 515h17v1h-17zM139 515h3v1h-3zM116 516h17v1h-17zM140 516h3v1h-3zM111 517h10v1h-10zM141 517h2v1h-2zM106 518h11v1h-11zM141 518h3v1h-3zM102 519h10v1h-10zM142 519h3v1h-3zM194 519h10v1h-10zM471 519h13v1h-13zM95 520h12v1h-12zM143 520h3v1h-3zM188 520h17v1h-17zM465 520h20v1h-20zM86 521h17v1h-17zM144 521h3v1h-3zM186 521h9v1h-9zM203 521h2v1h-2zM457 521h15v1h-15zM483 521h4v1h-4zM511 521h5v1h-5zM78 522h18v1h-18zM145 522h3v1h-3zM183 522h6v1h-6zM203 522h3v1h-3zM450 522h16v1h-16zM484 522h4v1h-4zM498 522h19v1h-19zM69 523h18v1h-18zM146 523h3v1h-3zM181 523h6v1h-6zM204 523h2v1h-2zM445 523h13v1h-13zM486 523h3v1h-3zM495 523h17v1h-17zM515 523h3v1h-3zM46 524h33v1h-33zM147 524h4v1h-4zM177 524h7v1h-7zM204 524h3v1h-3zM441 524h10v1h-10zM487 524h4v1h-4zM492 524h7v1h-7zM516 524h3v1h-3zM42 525h28v1h-28zM148 525h4v1h-4zM172 525h10v1h-10zM205 525h2v1h-2zM438 525h8v1h-8zM488 525h8v1h-8zM517 525h4v1h-4zM39 526h8v1h-8zM150 526h3v1h-3zM167 526h11v1h-11zM205 526h3v1h-3zM321 526h10v1h-10zM434 526h8v1h-8zM490 526h3v1h-3zM518 526h4v1h-4zM36 527h7v1h-7zM151 527h22v1h-22zM206 527h2v1h-2zM317 527h15v1h-15zM431 527h8v1h-8zM520 527h3v1h-3zM32 528h8v1h-8zM152 528h16v1h-16zM206 528h3v1h-3zM313 528h9v1h-9zM330 528h3v1h-3zM410 528h25v1h-25zM521 528h3v1h-3zM29 529h8v1h-8zM207 529h2v1h-2zM309 529h9v1h-9zM331 529h2v1h-2zM383 529h4v1h-4zM408 529h24v1h-24zM522 529h4v1h-4zM1 530h11v1h-11zM26 530h7v1h-7zM207 530h3v1h-3zM257 530h3v1h-3zM306 530h8v1h-8zM331 530h3v1h-3zM381 530h9v1h-9zM407 530h4v1h-4zM523 530h5v1h-5zM533 530h7v1h-7zM1 531h13v1h-13zM24 531h6v1h-6zM208 531h2v1h-2zM254 531h7v1h-7zM303 531h7v1h-7zM332 531h3v1h-3zM379 531h5v1h-5zM386 531h6v1h-6zM406 531h3v1h-3zM525 531h16v1h-16zM11 532h6v1h-6zM22 532h5v1h-5zM208 532h3v1h-3zM214 532h6v1h-6zM251 532h7v1h-7zM259 532h3v1h-3zM274 532h12v1h-12zM299 532h8v1h-8zM333 532h3v1h-3zM377 532h5v1h-5zM389 532h5v1h-5zM404 532h4v1h-4zM527 532h7v1h-7zM539 532h3v1h-3zM13 533h12v1h-12zM209 533h12v1h-12zM240 533h15v1h-15zM260 533h3v1h-3zM272 533h32v1h-32zM334 533h3v1h-3zM375 533h5v1h-5zM391 533h16v1h-16zM540 533h3v1h-3zM16 534h7v1h-7zM209 534h6v1h-6zM219 534h2v1h-2zM236 534h16v1h-16zM261 534h4v1h-4zM270 534h5v1h-5zM285 534h15v1h-15zM335 534h2v1h-2zM373 534h5v1h-5zM393 534h12v1h-12zM541 534h3v1h-3zM219 535h3v1h-3zM234 535h7v1h-7zM262 535h4v1h-4zM269 535h4v1h-4zM335 535h3v1h-3zM363 535h13v1h-13zM542 535h3v1h-3zM220 536h3v1h-3zM233 536h4v1h-4zM264 536h7v1h-7zM336 536h3v1h-3zM361 536h13v1h-13zM543 536h3v1h-3zM221 537h2v1h-2zM232 537h3v1h-3zM265 537h5v1h-5zM337 537h3v1h-3zM359 537h5v1h-5zM544 537h11v1h-11zM221 538h3v1h-3zM231 538h3v1h-3zM266 538h2v1h-2zM338 538h3v1h-3zM357 538h5v1h-5zM545 538h12v1h-12zM222 539h2v1h-2zM229 539h4v1h-4zM339 539h2v1h-2zM355 539h5v1h-5zM554 539h4v1h-4zM569 539h6v1h-6zM598 539h8v1h-8zM222 540h3v1h-3zM228 540h4v1h-4zM339 540h3v1h-3zM354 540h4v1h-4zM556 540h4v1h-4zM567 540h13v1h-13zM596 540h12v1h-12zM223 541h3v1h-3zM227 541h3v1h-3zM340 541h3v1h-3zM352 541h4v1h-4zM557 541h4v1h-4zM565 541h5v1h-5zM574 541h8v1h-8zM593 541h6v1h-6zM605 541h14v1h-14zM224 542h5v1h-5zM341 542h3v1h-3zM351 542h4v1h-4zM559 542h9v1h-9zM579 542h4v1h-4zM591 542h6v1h-6zM607 542h12v1h-12zM224 543h4v1h-4zM342 543h3v1h-3zM349 543h4v1h-4zM560 543h6v1h-6zM581 543h3v1h-3zM589 543h5v1h-5zM225 544h2v1h-2zM343 544h2v1h-2zM348 544h4v1h-4zM562 544h2v1h-2zM582 544h4v1h-4zM587 544h5v1h-5zM343 545h7v1h-7zM583 545h7v1h-7zM344 546h5v1h-5zM585 546h3v1h-3zM345 547h2v1h-2z" fill="#1E90FF"/>
</g>
<rect x="2" y="2" width="1" height="578" fill="#000"/>
<rect x="747" y="2" width="1" height="578" fill="#000"/>
<rect x="2" y="2" width="746" height="1" fill="#000"/>
<rect x="2" y="426" width="746" height="1" fill="#000"/>
<rect x="2" y="428" width="746" height="1" fill="#000"/>
<rect x="2" y="501" width="746" height="1" fill="#000"/>
<rect x="2" y="503" width="746" height="1" fill="#000"/>
<rect x="2" y="579" width="746" height="1" fill="#000"/>
<rect x="748" y="10" width="4" height="1" fill="#000"/>
<rect x="748" y="42" width="4" height="1" fill="#000"/>
<rect x="748" y="74" width="4" height="1" fill="#000"/>
<rect x="748" y="106" width="4" height="1" fill="#000"/>
<rect x="748" y="138" width="4" height="1" fill="#000"/>
<rect x="748" y="170" width="4" height="1" fill="#000"/>
<rect x="748" y="202" width="4" height="1" fill="#000"/>
<rect x="748" y="234" width="4" height="1" fill="#000"/>
<rect x="748" y="266" width="4" height="1" fill="#000"/>
<rect x="748" y="298" width="4" height="1" fill="#000"/>
<rect x="748" y="330" width="4" height="1" fill="#000"/>
<rect x="748" y="362" width="4" height="1" fill="#000"/>
<rect x="748" y="394" width="4" height="1" fill="#000"/>
<rect x="748" y="429" width="4" height="1" fill="#000"/>
<rect x="748" y="500" width="4" height="1" fill="#000"/>
<rect x="748" y="504" width="4" height="1" fill="#000"/>
<rect x="748" y="526" width="4" height="1" fill="#000"/>
<rect x="748" y="556" width="4" height="1" fill="#000"/>
<rect x="748" y="578" width="4" height="1" fill="#000"/>
<rect x="2" y="580" width="1" height="4" fill="#000"/>
<rect x="66" y="580" width="1" height="4" fill="#000"/>
<rect x="130" y="580" width="1" height="4" fill="#000"/>
<rect x="194" y="580" width="1" height="4" fill="#000"/>
<rect x="258" y="580" width="1" height="4" fill="#000"/>
<rect x="322" y="580" width="1" height="4" fill="#000"/>
<rect x="386" y="580" width="1" height="4" fill="#000"/>
<rect x="450" y="580" width="1" height="4" fill="#000"/>
<rect x="514" y="580" width="1" height="4" fill="#000"/>
<rect x="578" y="580" width="1" height="4" fill="#000"/>
<rect x="750" y="73" width="39" height="11" fill="#B22222"/>
<rect x="750" y="128" width="39" height="11" fill="#20B2AA"/>
<rect x="750" y="182" width="39" height="11" fill="#B22222"/>
</svg>
<div class="t n" style="left:753px;top:7px;">4848.45</div>
<div class="t n" style="left:753px;top:39px;">4603.50</div>
<div class="t n" style="left:753px;top:71px;">4358.55</div>
<div class="t n" style="left:753px;top:103px;">4113.60</div>
<div class="t n" style="left:753px;top:167px;">3623.70</div>
<div class="t n" style="left:753px;top:199px;">3378.75</div>
<div class="t n" style="left:753px;top:231px;">3133.80</div>
<div class="t n" style="left:753px;top:263px;">2888.85</div>
<div class="t n" style="left:753px;top:295px;">2643.90</div>
<div class="t n" style="left:753px;top:327px;">2398.95</div>
<div class="t n" style="left:753px;top:359px;">2154.00</div>
<div class="t n" style="left:753px;top:391px;">1909.05</div>
<div class="t n" style="left:753px;top:135px;clip-path:inset(4px 0 0 0);">3868.65</div>
<div class="t n w" style="left:753px;top:75px;">4325.40</div>
<div class="t n" style="left:753px;top:71px;">4358.55</div>
<div class="t n w" style="left:753px;top:130px;">3904.60</div>
<div class="t n w" style="left:753px;top:184px;">3490.10</div>
<div class="t n" style="left:753px;top:430px;">469.760</div>
<div class="t n" style="left:753px;top:492px;">6.252</div>
<div class="t n" style="left:753px;top:505px;">100.00</div>
<div class="t n" style="left:753px;top:523px;">70.00</div>
<div class="t n" style="left:753px;top:553px;">30.00</div>
<div class="t n" style="left:753px;top:570px;">0.00</div>
<div class="t" style="left:2.2px;top:585px;letter-spacing:-0.2px;">1 Aug 2016</div>
<div class="t" style="left:66.2px;top:585px;letter-spacing:-0.2px;">1 Apr 2017</div>
<div class="t" style="left:130.2px;top:585px;letter-spacing:-0.2px;">1 Dec 2017</div>
<div class="t" style="left:194.2px;top:585px;letter-spacing:-0.2px;">1 Aug 2018</div>
<div class="t" style="left:258.2px;top:585px;letter-spacing:-0.2px;">1 Apr 2019</div>
<div class="t" style="left:322.2px;top:585px;letter-spacing:-0.2px;">1 Dec 2019</div>
<div class="t" style="left:386.2px;top:585px;letter-spacing:-0.2px;">1 Aug 2020</div>
<div class="t" style="left:450.2px;top:585px;letter-spacing:-0.2px;">1 Apr 2021</div>
<div class="t" style="left:514.2px;top:585px;letter-spacing:-0.2px;">1 Dec 2021</div>
<div class="t" style="left:578.2px;top:585px;letter-spacing:-0.2px;">1 Aug 2022</div>
<div class="t" style="left:6.4px;top:6px;letter-spacing:-0.16px;">US500, Monthly:  US SPX 500 Index</div>
<div class="t" style="left:5.5px;top:434px;letter-spacing:-0.17px;">MACD(12,26,9) 46.474 142.112</div>
<div class="t" style="left:5.5px;top:509px;letter-spacing:-0.22px;">RSI(14) 49.18</div>
<div id="timer"><span>3 d 12 h 26 m 48 s</span></div>
</body></html>
